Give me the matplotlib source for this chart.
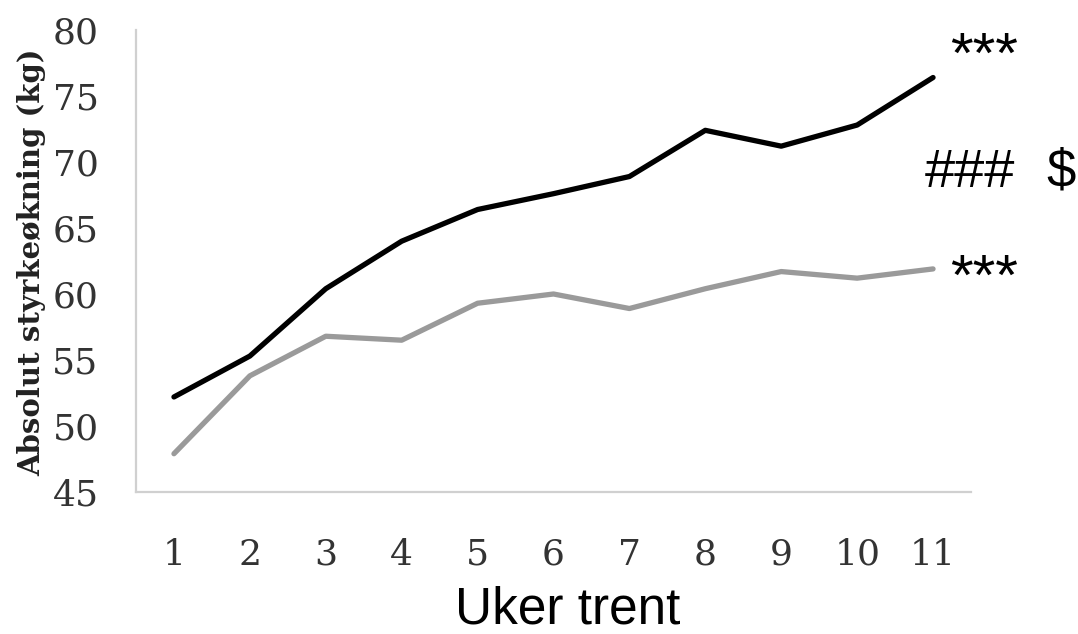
import numpy as np
import matplotlib
matplotlib.use("Agg")
import matplotlib.pyplot as plt

# weeks trained and absolute strength gain (kg)
weeks = [1, 2, 3, 4, 5, 6, 7, 8, 9, 10, 11]
black_gain = [52.2, 55.3, 60.4, 64.0, 66.4, 67.6, 68.9, 72.4, 71.2, 72.8, 76.4]
gray_gain = [47.9, 53.8, 56.8, 56.5, 59.3, 60.0, 58.9, 60.4, 61.7, 61.2, 61.9]
y_ticks = [45, 50, 55, 60, 65, 70, 75, 80]

W, H = 1078, 634
fig = plt.figure(figsize=(W / 100, H / 100), dpi=100)
ax = fig.add_axes([136 / W, 1 - 492 / H, (971 - 136) / W, (492 - 30) / H])

ax.plot(weeks, gray_gain, color="#9a9a9a", lw=3.8, solid_capstyle="round")
ax.plot(weeks, black_gain, color="black", lw=3.8, solid_capstyle="round")

ax.set_xlim(0.5, 11.5)
ax.set_ylim(45, 80)
ax.set_xticks(weeks)
ax.set_yticks(y_ticks)

for s in ["top", "right"]:
    ax.spines[s].set_visible(False)
for s in ["left", "bottom"]:
    ax.spines[s].set_color("#d0d0d0")
    ax.spines[s].set_linewidth(1.6)

ax.tick_params(axis="both", length=0, labelsize=26, labelcolor="#333333")
ax.tick_params(axis="y", pad=27)
ax.tick_params(axis="x", pad=33)
for lab in ax.get_xticklabels() + ax.get_yticklabels():
    lab.set_family("DejaVu Serif")

fig.text(32 / W, 1 - 262 / H, "Absolut styrkeøkning (kg)", rotation=90,
         ha="center", va="center", family="DejaVu Serif", fontweight="bold",
         fontsize=21, color="#222222")
fig.text(568 / W, 1 - 624 / H, "Uker trent", ha="center", va="baseline",
         family="Liberation Sans", fontsize=37)

# significance markers
fig.text(984 / W, 1 - 58 / H, "***", ha="center", va="center",
         family="Liberation Sans", fontsize=42)
fig.text(984 / W, 1 - 280 / H, "***", ha="center", va="center",
         family="Liberation Sans", fontsize=42)
fig.text(970 / W, 1 - 187 / H, "###", ha="center", va="baseline",
         family="Liberation Sans", fontsize=39)
fig.text(1061 / W, 1 - 187 / H, "$", ha="center", va="baseline",
         family="Liberation Sans", fontsize=38)

fig.savefig("out.png", dpi=100)
